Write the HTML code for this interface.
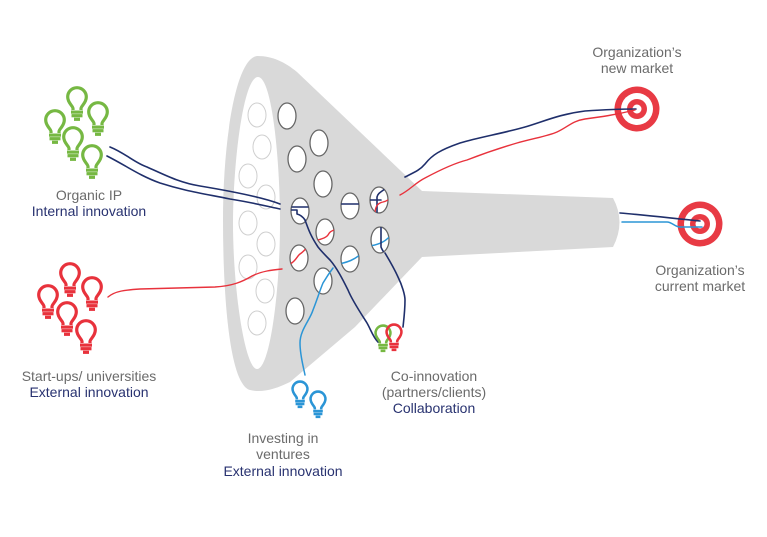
<!DOCTYPE html>
<html>
<head>
<meta charset="utf-8">
<style>
  html,body{margin:0;padding:0;background:#fff;}
  svg{display:block;}
  text{font-family:"Liberation Sans", sans-serif;font-size:14px;}
  .g{fill:#6b6b6b;}
  .n{fill:#283270;}
</style>
</head>
<body>
<svg width="767" height="537" viewBox="0 0 767 537" xmlns="http://www.w3.org/2000/svg">
  <defs>
    <g id="bulb">
      <path d="M -4 13 L -4 11.5 C -4 9, -9.3 6, -9.3 0 A 9.3 9.3 0 1 1 9.3 0 C 9.3 6, 4 9, 4 11.5 L 4 13" fill="none" stroke-width="3.2" stroke-linejoin="round"/>
      <rect x="-5.5" y="14" width="11" height="2.2"/>
      <rect x="-5" y="17.6" width="10" height="2.2"/>
      <rect x="-2.5" y="21.2" width="5" height="2.2"/>
    </g>
    <clipPath id="c300"><ellipse cx="300" cy="211" rx="9" ry="13"/></clipPath>
    <clipPath id="c350"><ellipse cx="350" cy="206" rx="9" ry="13"/></clipPath>
    <clipPath id="c379"><ellipse cx="379" cy="200" rx="9" ry="13"/></clipPath>
    <clipPath id="c325"><ellipse cx="325" cy="232" rx="9" ry="13"/></clipPath>
    <clipPath id="c299"><ellipse cx="299" cy="258" rx="9" ry="13"/></clipPath>
    <clipPath id="c350b"><ellipse cx="350" cy="259" rx="9" ry="13"/></clipPath>
    <clipPath id="c380"><ellipse cx="380" cy="240" rx="9" ry="13"/></clipPath>
  </defs>

  <!-- Funnel -->
  <path d="M258 56 C 236 56, 223 140, 223 220 C 223 300, 230 385, 250 390 C 262 393, 276 389, 290 382 L 355 327 L 422 257 L 613 247 Q 626 222 613 198 L 422 191 L 297 72 C 285 62, 272 56, 258 56 Z" fill="#d9d9d9"/>
  <!-- inner white opening -->
  <path d="M258 77 C 243 77, 233 165, 233 223 C 233 290, 245 369, 257 369 C 270 369, 280 290, 280 223 C 280 160, 272 77, 258 77 Z" fill="#fff"/>

  <!-- light circles -->
  <g fill="none" stroke="#cfcfcf" stroke-width="1">
    <ellipse cx="257" cy="115" rx="9" ry="12"/>
    <ellipse cx="262" cy="147" rx="9" ry="12"/>
    <ellipse cx="248" cy="176" rx="9" ry="12"/>
    <ellipse cx="266" cy="197" rx="9" ry="12"/>
    <ellipse cx="248" cy="223" rx="9" ry="12"/>
    <ellipse cx="266" cy="244" rx="9" ry="12"/>
    <ellipse cx="248" cy="267" rx="9" ry="12"/>
    <ellipse cx="265" cy="291" rx="9" ry="12"/>
    <ellipse cx="257" cy="323" rx="9" ry="12"/>
  </g>

  <!-- dark circles -->
  <g fill="#fff" stroke="#666" stroke-width="1.3">
    <ellipse cx="287" cy="116" rx="9" ry="13"/>
    <ellipse cx="319" cy="143" rx="9" ry="13"/>
    <ellipse cx="297" cy="159" rx="9" ry="13"/>
    <ellipse cx="323" cy="184" rx="9" ry="13"/>
    <ellipse cx="300" cy="211" rx="9" ry="13"/>
    <ellipse cx="325" cy="232" rx="9" ry="13"/>
    <ellipse cx="299" cy="258" rx="9" ry="13"/>
    <ellipse cx="323" cy="281" rx="9" ry="13"/>
    <ellipse cx="295" cy="311" rx="9" ry="13"/>
    <ellipse cx="350" cy="206" rx="9" ry="13"/>
    <ellipse cx="350" cy="259" rx="9" ry="13"/>
    <ellipse cx="379" cy="200" rx="9" ry="13"/>
    <ellipse cx="380" cy="240" rx="9" ry="13"/>
  </g>

  <!-- Targets -->
  <g>
    <circle cx="637" cy="109" r="22.5" fill="#e83a44"/>
    <circle cx="637" cy="109" r="16" fill="#fff"/>
    <circle cx="637" cy="109" r="10" fill="#e83a44"/>
    <circle cx="637" cy="109" r="4.5" fill="#fff"/>
    <circle cx="700" cy="224" r="22.5" fill="#e83a44"/>
    <circle cx="700" cy="224" r="16" fill="#fff"/>
    <circle cx="700" cy="224" r="10" fill="#e83a44"/>
    <circle cx="700" cy="224" r="4.5" fill="#fff"/>
  </g>

  <!-- Lines -->
  <g fill="none" stroke-linecap="round" stroke-linejoin="round">
    <!-- Organic IP navy lines -->
    <path d="M110 147 C 125 153, 135 163, 147 167 C 165 175, 180 183, 200 186 C 230 191, 262 197, 280 204" stroke="#1f2f6b" stroke-width="1.6"/>
    <path d="M107 156 C 125 165, 140 176, 160 183 C 185 191, 200 193, 230 199 C 255 203, 270 207, 280 209" stroke="#1f2f6b" stroke-width="1.6"/>
    <g clip-path="url(#c300)">
      <path d="M288 207 L 312 207" stroke="#1f2f6b" stroke-width="1.6"/>
      <path d="M288 210 L 297 210 L 297 214 C 301 215, 303 217, 305 220" stroke="#1f2f6b" stroke-width="1.6"/>
    </g>
    <path d="M305 220 C 308 228, 310 235, 318 247 C 322 252, 326 256, 330 260 C 337 268, 343 280, 348 290 C 352 300, 360 312, 367 323 C 371 330, 373 337, 378 342" stroke="#1f2f6b" stroke-width="1.6"/>
    <g clip-path="url(#c350)">
      <path d="M338 204 L 362 204" stroke="#1f2f6b" stroke-width="1.6"/>
    </g>
    <g clip-path="url(#c379)">
      <path d="M388 186 C 384 191, 378 192, 377 197 L 377 215" stroke="#1f2f6b" stroke-width="1.6"/>
      <path d="M369 200 L 381 200" stroke="#1f2f6b" stroke-width="1.6"/>
      <path d="M375 214 C 375 206, 378 203, 383 202 C 387 201, 390 199, 392 196" stroke="#e8323c" stroke-width="1.4"/>
    </g>
    <!-- to new market -->
    <path d="M405 177 C 415 172, 420 170, 425 164 C 432 155, 440 150, 460 143 C 480 137, 500 134, 525 127 C 545 121, 560 114, 585 111 C 600 110, 620 109, 636 109" stroke="#1f2f6b" stroke-width="1.6"/>
    <path d="M400 195 C 410 190, 415 183, 425 178 C 440 170, 455 163, 467 160 C 485 153, 500 148, 517 143 C 535 138, 548 136, 557 132 C 568 127, 572 121, 585 119 C 600 117, 615 115, 635 110" stroke="#e8323c" stroke-width="1.4"/>
    <!-- to current market -->
    <path d="M620 213 C 645 215, 670 218, 700 221" stroke="#1f2f6b" stroke-width="1.6"/>
    <path d="M622 222 L 667 222 C 672 222, 675 227, 680 227 L 702 227" stroke="#2b95d6" stroke-width="1.5"/>
    <!-- start-ups red -->
    <path d="M108 297 C 115 291, 125 290, 140 289 L 215 287 C 232 286, 242 282, 252 276 C 262 271, 272 270, 282 269" stroke="#e8323c" stroke-width="1.4"/>
    <g clip-path="url(#c299)">
      <path d="M290 264 C 296 261, 297 256, 300 254 C 303 252, 305 250, 309 245" stroke="#e8323c" stroke-width="1.4"/>
    </g>
    <g clip-path="url(#c325)">
      <path d="M315 241 C 321 239, 326 238, 328 235 C 330 231, 332 231, 336 229" stroke="#e8323c" stroke-width="1.4"/>
    </g>
    <!-- investing blue -->
    <path d="M305 375 C 303 365, 300 355, 300 343 C 300 330, 310 320, 313 310 C 317 300, 320 290, 323 283 C 326 278, 330 272, 333 268" stroke="#2b95d6" stroke-width="1.5"/>
    <g clip-path="url(#c350b)">
      <path d="M339 264 C 348 262, 354 260, 361 254" stroke="#2b95d6" stroke-width="1.5"/>
    </g>
    <g clip-path="url(#c380)">
      <path d="M370 246 C 380 244, 385 242, 391 235" stroke="#2b95d6" stroke-width="1.5"/>
      <path d="M381 226 L 381 247 C 382 250, 384 252, 386 256" stroke="#1f2f6b" stroke-width="1.6"/>
    </g>
    <path d="M385 253 C 388 258, 394 268, 398 277 C 402 285, 405 295, 405 300 C 405 310, 404 318, 403 327" stroke="#1f2f6b" stroke-width="1.6"/>
  </g>

  <!-- Bulbs: green cluster -->
  <g fill="#76b843" stroke="#76b843">
    <use href="#bulb" transform="translate(77,97)"/>
    <use href="#bulb" transform="translate(98,112)"/>
    <use href="#bulb" transform="translate(55,120)"/>
    <use href="#bulb" transform="translate(73,137)"/>
    <use href="#bulb" transform="translate(92,155)"/>
  </g>
  <!-- red cluster -->
  <g fill="#e8323c" stroke="#e8323c">
    <use href="#bulb" transform="translate(70,273)"/>
    <use href="#bulb" transform="translate(92,287)"/>
    <use href="#bulb" transform="translate(48,295)"/>
    <use href="#bulb" transform="translate(67,312)"/>
    <use href="#bulb" transform="translate(86,330)"/>
  </g>
  <!-- blue -->
  <g fill="#2b95d6" stroke="#2b95d6">
    <use href="#bulb" transform="translate(300,389) scale(0.8)"/>
    <use href="#bulb" transform="translate(318,399) scale(0.8)"/>
  </g>
  <!-- co-innovation -->
  <g fill="#76b843" stroke="#76b843">
    <use href="#bulb" transform="translate(383,333) scale(0.8)"/>
  </g>
  <g fill="#e8323c" stroke="#e8323c">
    <use href="#bulb" transform="translate(394,332) scale(0.8)"/>
  </g>

  <!-- Text -->
  <g text-anchor="middle">
    <text x="89" y="200" class="g">Organic IP</text>
    <text x="89" y="216" class="n">Internal innovation</text>

    <text x="89" y="381" class="g">Start-ups/ universities</text>
    <text x="89" y="397" class="n">External innovation</text>

    <text x="283" y="443" class="g">Investing in</text>
    <text x="283" y="459" class="g">ventures</text>
    <text x="283" y="476" class="n">External innovation</text>

    <text x="434" y="381" class="g">Co-innovation</text>
    <text x="434" y="397" class="g">(partners/clients)</text>
    <text x="434" y="413" class="n">Collaboration</text>

    <text x="637" y="57" class="g">Organization’s</text>
    <text x="637" y="73" class="g">new market</text>

    <text x="700" y="275" class="g">Organization’s</text>
    <text x="700" y="291" class="g">current market</text>
  </g>
</svg>
</body>
</html>
